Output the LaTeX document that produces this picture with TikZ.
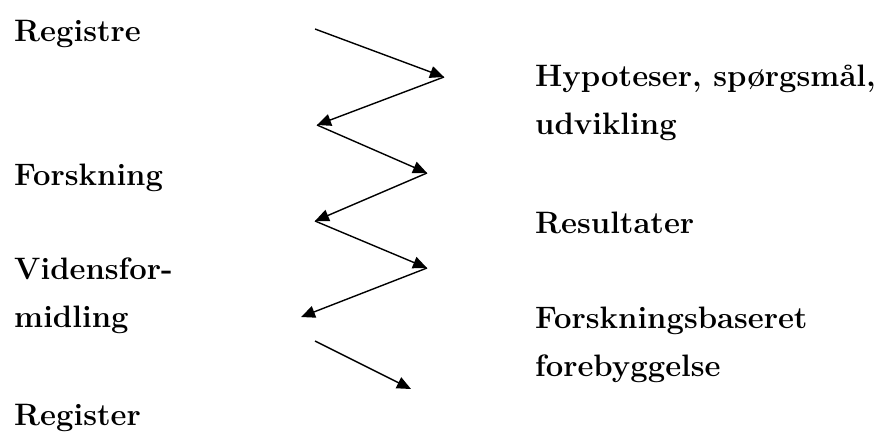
\documentclass[tikz,border=0pt]{standalone}
\usetikzlibrary{arrows.meta}

\begin{document}
\begin{tikzpicture}[
        x=1pt, y=-1pt,
        lbl/.style={anchor=base west, inner sep=0pt, align=left, font=\fontsize{31}{48}\selectfont\bfseries},
        zig/.style={-{Triangle[length=14pt, width=12pt]}, line width=1.4pt}
    ]
    \useasboundingbox (0,0) rectangle (896,433);

    % Left column (two-line nodes sit on their last baseline)
    \node[lbl] (registre) at (14,42) {Registre};
    \node[lbl] (forskning) at (14,185) {Forskning};
    \node[lbl] (videns) at (14,327) {Vidensfor-\\midling};
    \node[lbl] (register) at (14,425) {Register};

    % Right column
    \node[lbl] (hypo) at (535,135) {Hypoteser, spørgsmål,\\udvikling};
    \node[lbl] (result) at (535,233) {Resultater};
    \node[lbl] (forebyg) at (535,376) {Forskningsbaseret\\forebyggelse};

    % Zigzag points
    \coordinate (z0) at (315,29);
    \coordinate (z1) at (444,77);
    \coordinate (z2) at (317,125);
    \coordinate (z3) at (427,173);
    \coordinate (z4) at (315,221);
    \coordinate (z5) at (427,268);
    \coordinate (z6) at (301,317);
    \coordinate (t0) at (315,341);
    \coordinate (t1) at (411,389);

    % Zigzag arrows
    \foreach \a/\b in {z0/z1, z1/z2, z2/z3, z3/z4, z4/z5, z5/z6, t0/t1}
        \draw[zig] (\a) -- (\b);

\end{tikzpicture}
\end{document}
